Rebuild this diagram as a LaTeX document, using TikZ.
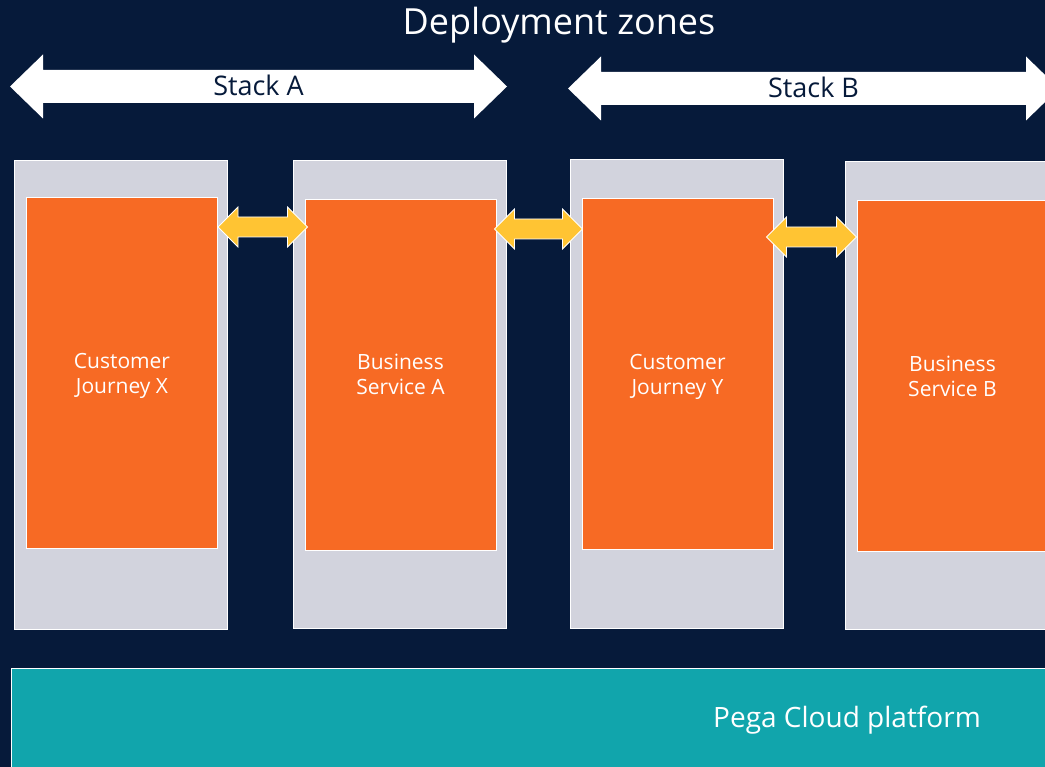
\documentclass[tikz,border=0pt]{standalone}
\usepackage{fontspec}
\setmainfont{Open Sans}
\usetikzlibrary{calc}

\definecolor{navy}{RGB}{6,26,58}
\definecolor{panelgray}{RGB}{210,211,221}
\definecolor{pegaorange}{RGB}{247,106,36}
\definecolor{linkyellow}{RGB}{255,196,51}
\definecolor{cloudteal}{RGB}{17,165,172}

\tikzset{
  zone/.style={draw=white, line width=1pt, fill=panelgray, minimum width=213pt, minimum height=468pt, inner sep=0pt},
  app/.style={draw=white, line width=1pt, fill=pegaorange, minimum width=191pt, minimum height=350pt, inner sep=0pt},
  applabel/.style={text=white, align=center, inner sep=0pt, font=\fontsize{21}{25}\selectfont},
  stacklabel/.style={text=navy, font=\fontsize{27}{32}\selectfont, inner sep=0pt},
  % horizontal two-headed arrow outline: #1 half shaft, #2 half head, #3 head length
  twohead/.style n args={3}{to path={
    let \p1=(\tikztostart), \p2=(\tikztotarget) in
    (\x1,\y1) -- (\x1+#3,\y1+#2) -- (\x1+#3,\y1+#1) -- (\x2-#3,\y1+#1) -- (\x2-#3,\y1+#2)
    -- (\x2,\y1) -- (\x2-#3,\y1-#2) -- (\x2-#3,\y1-#1) -- (\x1+#3,\y1-#1) -- (\x1+#3,\y1-#2) -- cycle}},
  stackarrow/.style={fill=white, twohead={16.5pt}{32pt}{33pt}},
  linkarrow/.style={fill=linkyellow, draw=white, line width=0.8pt, twohead={10pt}{20pt}{20pt}}
}

\begin{document}
\begin{tikzpicture}[x=1pt, y=-1pt]
  \clip (0,0) rectangle (1045,767);
  \fill[navy] (0,0) rectangle (1045,767);

  % title
  \node[text=white, font=\fontsize{36}{43}\selectfont, inner sep=0pt] (title) at (559,25.5) {Deployment zones};

  % stack banners
  \coordinate (aL) at (10,86.5);
  \coordinate (aR) at (507,86.5);
  \coordinate (bL) at (568,88.5);
  \coordinate (bR) at (1059,88.5);
  \path[stackarrow] (aL) to (aR);
  \path[stackarrow] (bL) to (bR);
  \node[stacklabel] (stackA) at ($(aL)!0.5!(aR)+(0,-1)$) {Stack A};
  \node[stacklabel] (stackB) at ($(bL)!0.5!(bR)+(0,-1)$) {Stack B};

  % deployment zone panels
  \node[zone] (z1) at (120.5,395) {};
  \node[zone] (z2) at (399.5,394.5) {};
  \node[zone] (z3) at (676.5,394) {};
  \node[zone] (z4) at (951.5,395.5) {};

  % applications
  \node[app] (jx) at (122,373) {};
  \node[app] (sa) at (400.5,375) {};
  \node[app] (jy) at (677.5,374) {};
  \node[app] (sb) at (952.5,376) {};
  \node[applabel] (jxt) at ($(jx.center)+(0,3)$) {Customer\\Journey X};
  \node[applabel] (sat) at ($(sa.center)+(0,-1)$) {Business\\Service A};
  \node[applabel] (jyt) at ($(jy.center)+(0,3)$) {Customer\\Journey Y};
  \node[applabel] (sbt) at ($(sb.center)+(0,0)$) {Business\\Service B};

  % links between applications
  \path[linkarrow] (jx.east |- 0,227) to ($(sa.west |- 0,227)+(3,0)$);
  \path[linkarrow] ($(sa.east |- 0,229)+(-2,0)$) to ($(jy.west |- 0,229)+(1,0)$);
  \path[linkarrow] ($(jy.east |- 0,237)+(-7,0)$) to (sb.west |- 0,237);

  % platform
  \node[draw=white, line width=1pt, fill=cloudteal, minimum width=1060pt, minimum height=120pt,
        inner sep=0pt, anchor=north west] (cloud) at (11,667.5) {};
  \node[text=white, font=\fontsize{28}{34}\selectfont, inner sep=0pt] (cloudlabel) at (847,720.5) {Pega Cloud platform};
\end{tikzpicture}
\end{document}
